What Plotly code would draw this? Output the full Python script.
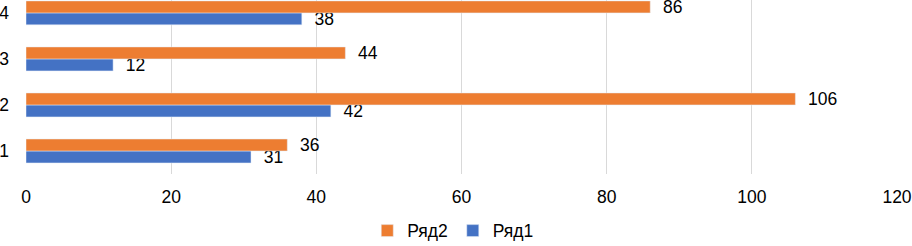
import plotly.graph_objects as go

categories = ["1", "2", "3", "4"]
series1_name = "Ряд1"
series1 = [31, 42, 12, 38]
series2_name = "Ряд2"
series2 = [36, 106, 44, 86]
x_ticks = [0, 20, 40, 60, 80, 100, 120]

font = "Liberation Sans, Arial, sans-serif"
fs = 17.5

fig = go.Figure()
fig.add_trace(go.Bar(y=categories, x=series1, name=series1_name, orientation="h",
                     marker_color="#4472c4", text=series1, textposition="outside",
                     texttemplate="  %{x}", constraintext="none",
                     textfont=dict(size=fs, color="#000000", family=font), cliponaxis=False))
fig.add_trace(go.Bar(y=categories, x=series2, name=series2_name, orientation="h",
                     marker_color="#ed7d31", text=series2, textposition="outside",
                     texttemplate="  %{x}", constraintext="none",
                     textfont=dict(size=fs, color="#000000", family=font), cliponaxis=False))

fig.update_layout(
    width=912, height=246,
    margin=dict(l=26, r=15, t=0, b=72, autoexpand=False),
    barmode="group", bargap=0.48, bargroupgap=0,
    plot_bgcolor="white", paper_bgcolor="white",
    font=dict(family=font, size=fs, color="#000000"),
    showlegend=True,
    legend=dict(orientation="h", x=0.497, xanchor="center", xref="container",
                y=0.062, yanchor="middle", yref="container",
                traceorder="reversed", font=dict(size=fs)),
    xaxis=dict(range=[0, 120], tickvals=x_ticks, showgrid=True, gridcolor="#d9d9d9",
               gridwidth=1, zeroline=False, ticks="", ticklabelstandoff=10,
               tickfont=dict(size=fs), automargin=False),
    yaxis=dict(type="category", range=[-0.5, 3.28], showgrid=False, ticks="",
               ticklabelstandoff=16, tickfont=dict(size=fs), automargin=False),
)

fig.write_html("out.html", config={"displayModeBar": False},
               post_script="document.body.style.margin='0';document.body.style.overflow='hidden';")
